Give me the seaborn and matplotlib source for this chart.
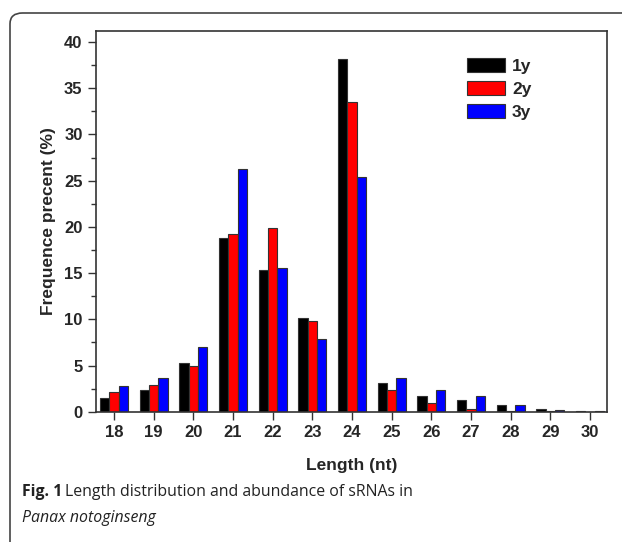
import matplotlib
matplotlib.use("Agg")
import matplotlib.pyplot as plt
import seaborn as sns
import pandas as pd
from matplotlib.patches import FancyBboxPatch
from matplotlib.ticker import MultipleLocator

lengths = ["18", "19", "20", "21", "22", "23", "24", "25", "26", "27", "28", "29", "30"]
y1 = [1.45, 2.3, 5.28, 18.85, 15.35, 10.15, 38.2, 3.1, 1.73, 1.27, 0.72, 0.26, 0.04]
y2 = [2.13, 2.9, 4.9, 19.2, 19.9, 9.86, 33.5, 2.4, 0.9, 0.33, 0.06, 0.03, 0.02]
y3 = [2.82, 3.7, 6.97, 26.3, 15.5, 7.84, 25.4, 3.6, 2.35, 1.7, 0.72, 0.18, 0.04]
groups = ["1y", "2y", "3y"]
colors = ["#000000", "#ff0000", "#0000ff"]

rows = []
for g, vals in zip(groups, [y1, y2, y3]):
    for l, v in zip(lengths, vals):
        rows.append({"Length": l, "Group": g, "Value": v})
df = pd.DataFrame(rows)

sns.set_style("ticks")
plt.rcParams["font.family"] = ["Liberation Sans", "DejaVu Sans"]

fig = plt.figure(figsize=(6.22, 5.42), dpi=100)
ax = fig.add_axes([0.154, 0.2404, 0.822, 0.7024])

sns.barplot(data=df, x="Length", y="Value", hue="Group", order=lengths,
            hue_order=groups, palette=colors, width=0.7, gap=0,
            edgecolor="#333333", linewidth=0.8, saturation=1, ax=ax)

ax.set_xlim(-0.46, 12.43)
ax.set_ylim(0, 41.2)
ax.yaxis.set_major_locator(MultipleLocator(5))
ax.yaxis.set_minor_locator(MultipleLocator(2.5))
ax.tick_params(axis="both", which="major", direction="out", length=6, width=1,
               color="#333333", labelsize=12)
ax.tick_params(axis="y", which="minor", direction="out", length=3.5, width=1,
               color="#333333")
for lab in ax.get_xticklabels() + ax.get_yticklabels():
    lab.set_fontweight("bold")
for s in ax.spines.values():
    s.set_visible(True)
    s.set_color("#333333")
    s.set_linewidth(1.2)

ax.set_xlabel("Length (nt)", fontsize=12.5, fontweight="bold", labelpad=13)
ax.set_ylabel("Frequence precent (%)", fontsize=12.5, fontweight="bold", labelpad=6)

leg = ax.legend(loc="upper left", bbox_to_anchor=(0.726, 0.929), frameon=False,
                prop={"weight": "bold", "size": 12.5}, handlelength=2.2,
                handleheight=0.85, labelspacing=0.4, handletextpad=0.4,
                borderpad=0, borderaxespad=0)

# outer rounded frame
frame = FancyBboxPatch((10 / 622, -0.2), 1.2, 1.2 - 13 / 542,
                       boxstyle="round,pad=0,rounding_size=0.02",
                       transform=fig.transFigure, fill=False,
                       edgecolor="#444444", linewidth=1.2, clip_on=False)
fig.patches.append(frame)

cap_font = ["Open Sans", "DejaVu Sans"]
fig.text(22 / 622, 1 - 496 / 542, "Fig. 1", fontsize=11.4, fontweight="bold",
         family=cap_font, va="baseline", color="#222222")
fig.text(65 / 622, 1 - 496 / 542, "Length distribution and abundance of sRNAs in",
         fontsize=11.4, family=cap_font, va="baseline", color="#222222")
fig.text(22 / 622, 1 - 522 / 542, "Panax notoginseng", fontsize=11.4,
         style="italic", family=cap_font, va="baseline", color="#222222")

fig.savefig("out.png", dpi=100)
